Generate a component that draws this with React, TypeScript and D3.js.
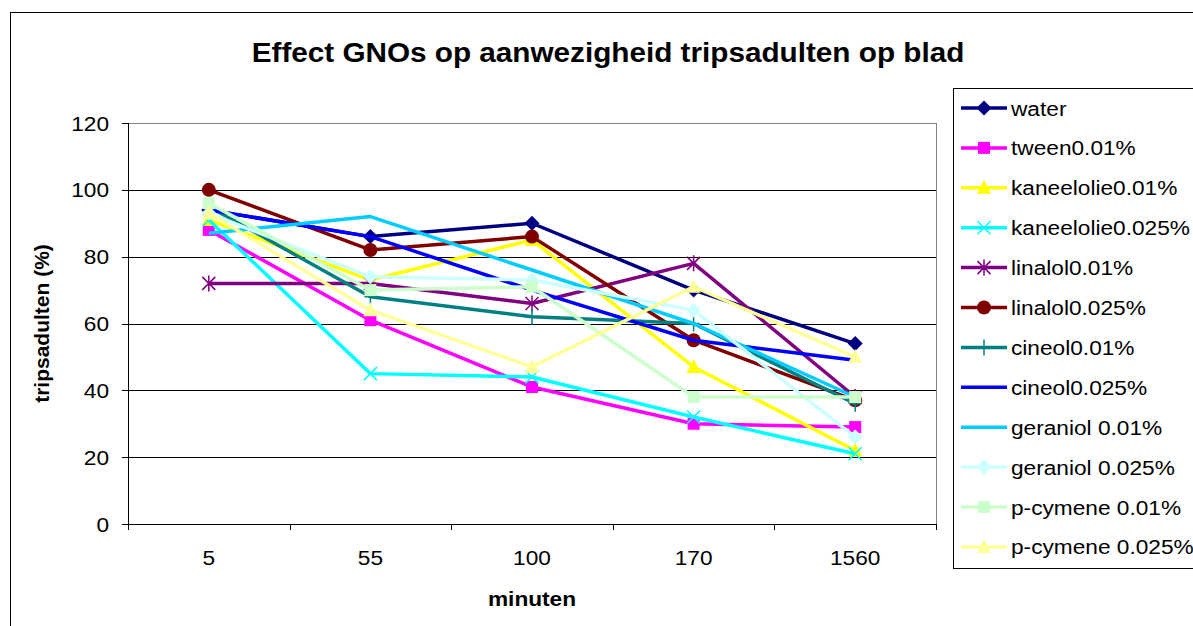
import React from "react";
import * as d3 from "d3";

const categories = ["5", "55", "100", "170", "1560"];
const yTicks = [0, 20, 40, 60, 80, 100, 120];

const seriesNames = [
  "water", "tween0.01%", "kaneelolie0.01%", "kaneelolie0.025%", "linalol0.01%", "linalol0.025%",
  "cineol0.01%", "cineol0.025%", "geraniol 0.01%", "geraniol 0.025%", "p-cymene 0.01%", "p-cymene 0.025%",
];
const water = [94, 86, 90, 70, 54];
const tween = [88, 61, 41, 30, 29];
const kaneel001 = [91, 73, 85, 47, 22];
const kaneel0025 = [91, 45, 44, 32, 21];
const linalol001 = [72, 72, 66, 78, 38];
const linalol0025 = [100, 82, 86, 55, 37];
const cineol001 = [95, 68, 62, 60, 36];
const cineol0025 = [94, 86, 70, 55, 49];
const geraniol001 = [87, 92, 76, 60, 38];
const geraniol0025 = [93, 74, 73, 64, 26];
const pcymene001 = [96, 70, 71, 38, 38];
const pcymene0025 = [93, 64, 47, 71, 50];
const seriesValues = [water, tween, kaneel001, kaneel0025, linalol001, linalol0025, cineol001, cineol0025, geraniol001, geraniol0025, pcymene001, pcymene0025];
const colors = ["#000080", "#FF00FF", "#FFFF00", "#00FFFF", "#800080", "#800000", "#008080", "#0000FF", "#00CCFF", "#CCFFFF", "#CCFFCC", "#FFFF99"];
const markers = ["diamond", "square", "triangle", "x", "star", "circle", "plus", "none", "none", "diamond", "square", "triangle"];

const FONT = "Arial, 'Liberation Sans', sans-serif";
const SX = 1.08;

function SText({ x, y, anchor = "start", size, bold = false, children }: any) {
  return (
    <text transform={`translate(${x},${y}) scale(${SX},1)`} textAnchor={anchor} fontSize={size} fontWeight={bold ? "bold" : "normal"}>
      {children}
    </text>
  );
}

function Marker({ type, x, y, color }: { type: string; x: number; y: number; color: string }) {
  const s = 7.5;
  switch (type) {
    case "diamond":
      return <path d={`M${x},${y - s}L${x + s},${y}L${x},${y + s}L${x - s},${y}Z`} fill={color} />;
    case "square":
      return <rect x={x - 6} y={y - 6} width={12} height={12} fill={color} />;
    case "triangle":
      return <path d={`M${x},${y - 8}L${x + 7},${y + 6}L${x - 7},${y + 6}Z`} fill={color} />;
    case "circle":
      return <circle cx={x} cy={y} r={7} fill={color} />;
    case "x":
      return <path d={`M${x - 6.5},${y - 6.5}L${x + 6.5},${y + 6.5}M${x - 6.5},${y + 6.5}L${x + 6.5},${y - 6.5}`} stroke={color} strokeWidth={1.5} />;
    case "star":
      return <path d={`M${x - 6.5},${y - 6.5}L${x + 6.5},${y + 6.5}M${x - 6.5},${y + 6.5}L${x + 6.5},${y - 6.5}M${x},${y - 8}L${x},${y + 8}`} stroke={color} strokeWidth={1.5} />;
    case "plus":
      return <path d={`M${x},${y - 8}L${x},${y + 8}M${x - 6},${y}L${x + 6},${y}`} stroke={color} strokeWidth={1.5} />;
    default:
      return null;
  }
}

export default function App() {
  const W = 1193, H = 626;
  const left = 128, right = 936, top = 123, bottom = 524;
  const x = d3.scalePoint<string>().domain(categories).range([left, right]).padding(0.5);
  const y = d3.scaleLinear().domain([0, 120]).range([bottom, top]);
  const line = d3.line<number>().x((_, i) => x(categories[i]) as number).y((d) => y(d));
  const step = x.step();
  const boundaries = d3.range(categories.length + 1).map((i) => left + i * step);

  const legX = 953, legY = 88, legH = 480, rowH = 39.9;

  return (
    <div style={{ position: "absolute", left: 0, top: 0 }}>
      <svg width={W} height={H} style={{ display: "block", fontFamily: FONT }}>
        <rect x={0} y={0} width={W} height={H} fill="#fff" />
        <rect x={10.5} y={12.5} width={W + 20} height={H + 20} fill="none" stroke="#000" />
        <SText x={608} y={62} anchor="middle" size={27.5} bold>Effect GNOs op aanwezigheid tripsadulten op blad</SText>
        {yTicks.filter((t) => t > 0 && t < 120).map((t) => (
          <line key={t} x1={left} x2={right} y1={Math.round(y(t)) + 0.5} y2={Math.round(y(t)) + 0.5} stroke="#000" />
        ))}
        <rect x={left + 0.5} y={top + 0.5} width={right - left} height={bottom - top} fill="none" stroke="#808080" />
        <line x1={left + 0.5} x2={left + 0.5} y1={top} y2={bottom} stroke="#000" />
        <line x1={left} x2={right} y1={bottom + 0.5} y2={bottom + 0.5} stroke="#000" />
        {yTicks.map((t) => (
          <g key={t}>
            <line x1={left - 6} x2={left} y1={Math.round(y(t)) + 0.5} y2={Math.round(y(t)) + 0.5} stroke="#000" />
            <SText x={109} y={y(t) + 7.5} anchor="end" size={21}>{t}</SText>
          </g>
        ))}
        {boundaries.map((b, i) => (
          <line key={i} x1={Math.round(b) + 0.5} x2={Math.round(b) + 0.5} y1={bottom} y2={bottom + 6} stroke="#000" />
        ))}
        {categories.map((c) => (
          <SText key={c} x={x(c)} y={565} anchor="middle" size={21}>{c}</SText>
        ))}
        <SText x={532} y={606} anchor="middle" size={21} bold>minuten</SText>
        <text transform={`translate(49,${(top + bottom) / 2}) rotate(-90)`} textAnchor="middle" fontSize={21} fontWeight="bold">tripsadulten (%)</text>
        {seriesValues.map((vals, si) => (
          <g key={si}>
            <path d={line(vals) as string} fill="none" stroke={colors[si]} strokeWidth={3.5} strokeLinejoin="round" />
            {vals.map((v, i) => (
              <Marker key={i} type={markers[si]} x={x(categories[i]) as number} y={y(v)} color={colors[si]} />
            ))}
          </g>
        ))}
        <rect x={legX + 0.5} y={legY + 0.5} width={W} height={legH} fill="#fff" stroke="#000" />
        {seriesNames.map((n, i) => {
          const cy = 108 + i * rowH;
          return (
            <g key={n}>
              <line x1={961} x2={1007} y1={cy} y2={cy} stroke={colors[i]} strokeWidth={3.5} />
              <Marker type={markers[i]} x={984} y={cy} color={colors[i]} />
              <SText x={1011} y={cy + 7.5} size={21}>{n}</SText>
            </g>
          );
        })}
      </svg>
    </div>
  );
}
